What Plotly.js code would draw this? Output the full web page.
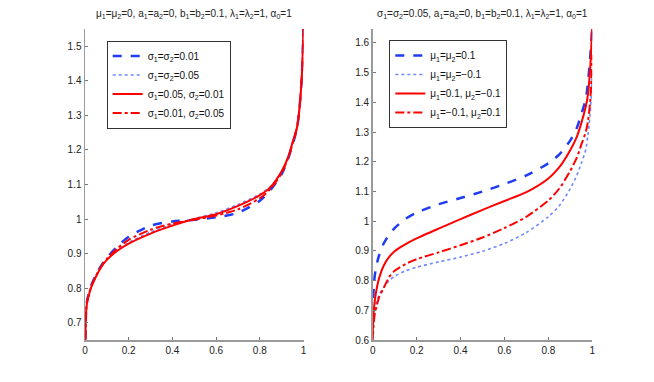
<!DOCTYPE html>
<html>
<head>
<meta charset="utf-8">
<script src="https://cdn.plot.ly/plotly-3.0.1.min.js"></script>
<style>html,body{margin:0;padding:0;background:#fff;}#chart{width:654px;height:382px;}</style>
</head>
<body>
<div id="chart"></div>
<script>
// common probability grid
const p = [0, 0.005, 0.01, 0.02, 0.03, 0.05, 0.075, 0.1, 0.15, 0.2, 0.3, 0.4, 0.5, 0.6, 0.7, 0.8, 0.85, 0.9, 0.93, 0.95, 0.97, 0.98, 0.99, 0.995, 1.0];

// left panel: mu1=mu2=0
const leftNames = ["σ<sub>1</sub>=σ<sub>2</sub>=0.01", "σ<sub>1</sub>=σ<sub>2</sub>=0.05", "σ<sub>1</sub>=0.05, σ<sub>2</sub>=0.01", "σ<sub>1</sub>=0.01, σ<sub>2</sub>=0.05"];
const leftSig001 = [0.60, 0.73, 0.765, 0.79, 0.81, 0.838, 0.866, 0.888, 0.922, 0.949, 0.981, 0.993, 0.998, 1.005, 1.018, 1.053, 1.085, 1.130, 1.175, 1.215, 1.262, 1.31, 1.39, 1.45, 1.56];
const leftSig005 = [0.60, 0.73, 0.762, 0.787, 0.807, 0.835, 0.863, 0.883, 0.911, 0.932, 0.962, 0.984, 1.001, 1.018, 1.042, 1.072, 1.095, 1.137, 1.180, 1.222, 1.265, 1.31, 1.39, 1.45, 1.56];
const leftSig005_001 = [0.60, 0.73, 0.76, 0.785, 0.805, 0.833, 0.862, 0.882, 0.909, 0.929, 0.958, 0.981, 1.000, 1.014, 1.038, 1.069, 1.093, 1.138, 1.180, 1.222, 1.265, 1.31, 1.39, 1.45, 1.56];
const leftSig001_005 = [0.60, 0.73, 0.763, 0.788, 0.808, 0.836, 0.864, 0.885, 0.916, 0.940, 0.969, 0.987, 0.998, 1.010, 1.028, 1.060, 1.088, 1.133, 1.177, 1.218, 1.263, 1.31, 1.39, 1.45, 1.56];

// right panel: sigma1=sigma2=0.05
const rightNames = ["μ<sub>1</sub>=μ<sub>2</sub>=0.1", "μ<sub>1</sub>=μ<sub>2</sub>=−0.1", "μ<sub>1</sub>=0.1, μ<sub>2</sub>=−0.1", "μ<sub>1</sub>=−0.1, μ<sub>2</sub>=0.1"];
const rightMu01 = [0.68, 0.78, 0.82, 0.86, 0.887, 0.925, 0.955, 0.977, 1.008, 1.029, 1.057, 1.078, 1.100, 1.125, 1.154, 1.195, 1.225, 1.272, 1.315, 1.360, 1.410, 1.465, 1.547, 1.60, 1.66];
const rightMuM01 = [0.62, 0.69, 0.71, 0.735, 0.752, 0.778, 0.800, 0.815, 0.833, 0.845, 0.863, 0.879, 0.899, 0.925, 0.962, 1.015, 1.052, 1.110, 1.155, 1.195, 1.240, 1.29, 1.36, 1.42, 1.50];
const rightMu01_M01 = [0.62, 0.70, 0.735, 0.78, 0.81, 0.85, 0.880, 0.899, 0.923, 0.942, 0.975, 1.007, 1.038, 1.068, 1.098, 1.144, 1.182, 1.240, 1.285, 1.330, 1.385, 1.425, 1.51, 1.58, 1.66];
const rightMuM01_01 = [0.60, 0.66, 0.69, 0.72, 0.745, 0.775, 0.812, 0.833, 0.856, 0.872, 0.895, 0.919, 0.945, 0.977, 1.015, 1.070, 1.110, 1.170, 1.215, 1.258, 1.300, 1.335, 1.40, 1.46, 1.56];

// tick labels
const xTicks = [0, 0.2, 0.4, 0.6, 0.8, 1];
const xTickText = ["0", "0.2", "0.4", "0.6", "0.8", "1"];
const yTicksLeft = [0.7, 0.8, 0.9, 1.0, 1.1, 1.2, 1.3, 1.4, 1.5];
const yTextLeft = ["0.7", "0.8", "0.9", "1", "1.1", "1.2", "1.3", "1.4", "1.5"];
const yTicksRight = [0.6, 0.7, 0.8, 0.9, 1.0, 1.1, 1.2, 1.3, 1.4, 1.5, 1.6];
const yTextRight = ["0.6", "0.7", "0.8", "0.9", "1", "1.1", "1.2", "1.3", "1.4", "1.5", "1.6"];

const titleLeft = "μ<sub>1</sub>=μ<sub>2</sub>=0, a<sub>1</sub>=a<sub>2</sub>=0, b<sub>1</sub>=b<sub>2</sub>=0.1, λ<sub>1</sub>=λ<sub>2</sub>=1, α<sub>0</sub>=1";
const titleRight = "σ<sub>1</sub>=σ<sub>2</sub>=0.05, a<sub>1</sub>=a<sub>2</sub>=0, b<sub>1</sub>=b<sub>2</sub>=0.1, λ<sub>1</sub>=λ<sub>2</sub>=1, α<sub>0</sub>=1";

const BLUE = "#1f3cf5", BLUE_LIGHT = "#6f86ff", RED = "#ff0000";
const styles = [
  {color: BLUE, width: 2.5, dash: "dash"},
  {color: BLUE_LIGHT, width: 1.6, dash: "dot"},
  {color: RED, width: 2, dash: "solid"},
  {color: RED, width: 2, dash: "dashdot"}
];
const leftSeries = [leftSig001, leftSig005, leftSig005_001, leftSig001_005];
const rightSeries = [rightMu01, rightMuM01, rightMu01_M01, rightMuM01_01];

const traces = [];
leftSeries.forEach((ys, i) => traces.push({
  x: p, y: ys, name: leftNames[i], type: "scatter", mode: "lines",
  line: Object.assign({shape: "spline", smoothing: 0.7}, styles[i]),
  xaxis: "x", yaxis: "y", legend: "legend"
}));
rightSeries.forEach((ys, i) => traces.push({
  x: p, y: ys, name: rightNames[i], type: "scatter", mode: "lines",
  line: Object.assign({shape: "spline", smoothing: 0.7}, styles[i]),
  xaxis: "x2", yaxis: "y2", legend: "legend2"
}));

const W = 654, H = 382;
const axBase = {
  showline: true, linecolor: "#9a9a9a", linewidth: 1.5, mirror: false,
  ticks: "inside", ticklen: 3, tickcolor: "#777", tickwidth: 1,
  showgrid: false, zeroline: false,
  tickfont: {family: "Liberation Sans, Arial, sans-serif", size: 10, color: "#222"}
};
const legBase = {
  bgcolor: "#ffffff", bordercolor: "#333", borderwidth: 1,
  font: {family: "Liberation Sans, Arial, sans-serif", size: 10, color: "#111"},
  xanchor: "left", yanchor: "top", tracegroupgap: 0, itemwidth: 30
};
const layout = {
  width: W, height: H,
  margin: {l: 0, r: 0, t: 0, b: 0},
  paper_bgcolor: "#fff", plot_bgcolor: "#fff",
  showlegend: true,
  xaxis: Object.assign({}, axBase, {domain: [85/W, 303.5/W], range: [0, 1], tickvals: xTicks, ticktext: xTickText, anchor: "y"}),
  yaxis: Object.assign({}, axBase, {domain: [1 - 340/H, 1 - 29/H], range: [0.65, 1.55], tickvals: yTicksLeft, ticktext: yTextLeft, anchor: "x"}),
  xaxis2: Object.assign({}, axBase, {domain: [372.7/W, 592.3/W], range: [0, 1], tickvals: xTicks, ticktext: xTickText, anchor: "y2"}),
  yaxis2: Object.assign({}, axBase, {domain: [1 - 340/H, 1 - 29/H], range: [0.6, 1.647], tickvals: yTicksRight, ticktext: yTextRight, anchor: "x2"}),
  legend: Object.assign({}, legBase, {x: 106.7/W, y: 1 - 40.5/H}),
  legend2: Object.assign({}, legBase, {x: 389.3/W, y: 1 - 40/H}),
  annotations: [
    {text: titleLeft, xref: "paper", yref: "paper", x: 194/W, y: 1 - 14/H, xanchor: "center", yanchor: "middle", showarrow: false,
     font: {family: "Liberation Sans, Arial, sans-serif", size: 10, color: "#222"}},
    {text: titleRight, xref: "paper", yref: "paper", x: 482.5/W, y: 1 - 14/H, xanchor: "center", yanchor: "middle", showarrow: false,
     font: {family: "Liberation Sans, Arial, sans-serif", size: 10, color: "#222"}}
  ]
};
Plotly.newPlot("chart", traces, layout, {staticPlot: true, displayModeBar: false});
</script>
</body>
</html>
